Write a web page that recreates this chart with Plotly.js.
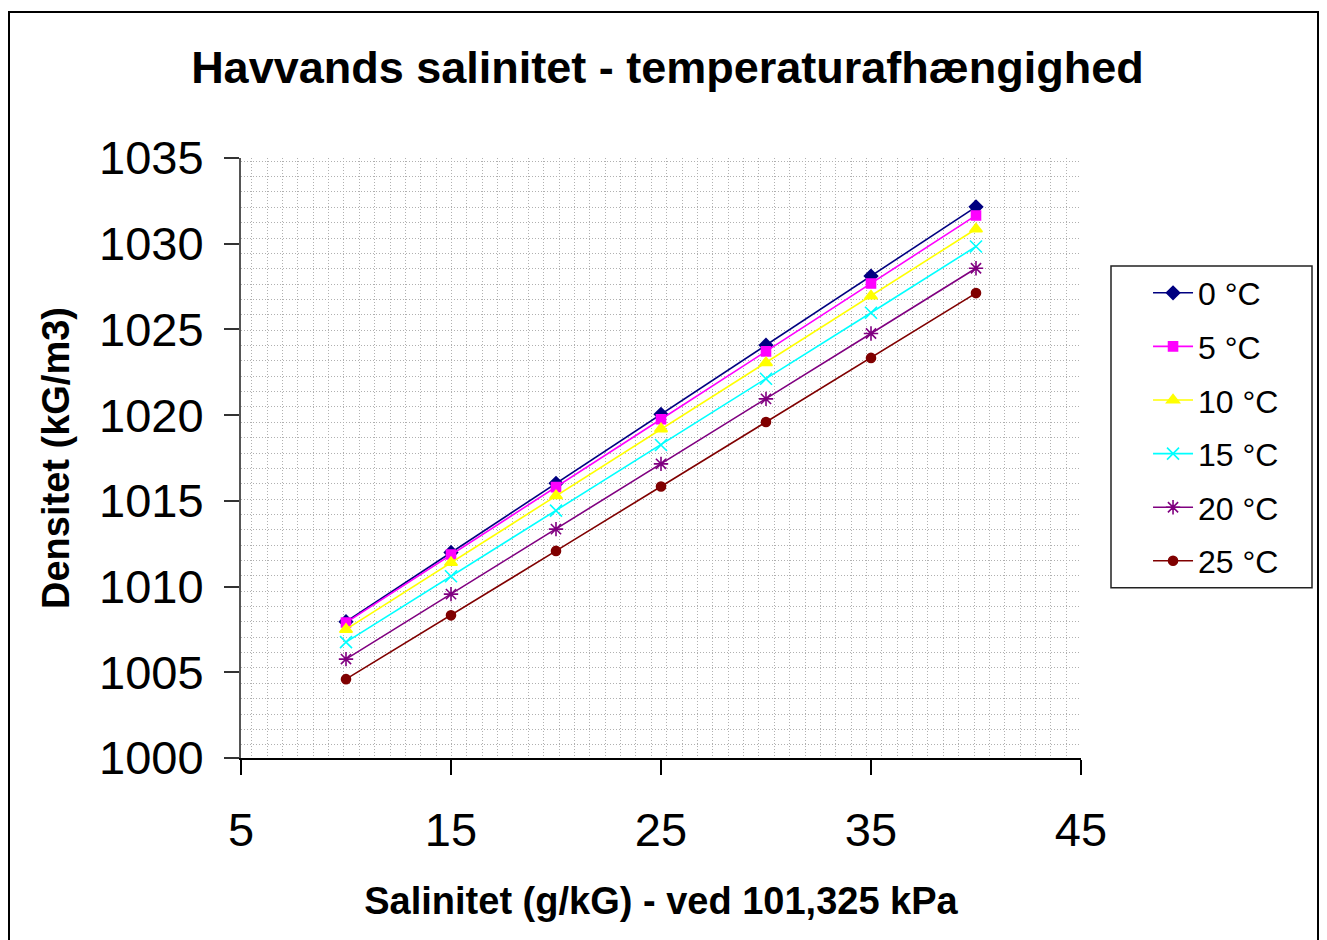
<!DOCTYPE html>
<html>
<head>
<meta charset="utf-8">
<script src="https://cdn.plot.ly/plotly-3.0.1.min.js"></script>
<style>
  html, body { margin: 0; padding: 0; background: #fff; }
  #chart { width: 1327px; height: 940px; }
</style>
</head>
<body>
<div id="chart"></div>
<script>
// Salinity (g/kG)
const salinity = [10, 15, 20, 25, 30, 35, 40];
// Density (kG/m3) per temperature
const seriesNames = ["0 °C", "5 °C", "10 °C", "15 °C", "20 °C", "25 °C"];
const d0  = [1007.95, 1011.99, 1016.02, 1020.05, 1024.08, 1028.11, 1032.15];
const d5  = [1007.90, 1011.87, 1015.80, 1019.76, 1023.72, 1027.68, 1031.65];
const d10 = [1007.50, 1011.40, 1015.30, 1019.20, 1023.06, 1026.95, 1030.86];
const d15 = [1006.76, 1010.60, 1014.43, 1018.26, 1022.12, 1025.97, 1029.84];
const d20 = [1005.77, 1009.56, 1013.35, 1017.16, 1020.95, 1024.76, 1028.57];
const d25 = [1004.60, 1008.32, 1012.08, 1015.84, 1019.60, 1023.34, 1027.12];
const densities = [d0, d5, d10, d15, d20, d25];

const colors  = ["#000080", "#FF00FF", "#FFFF00", "#00FFFF", "#800080", "#800000"];
const symbols = ["diamond", "square", "triangle-up", "x-thin-open", "asterisk-open", "circle"];
const sizes   = [10, 9, 11, 12, 12, 9];

const FONT = "Liberation Sans, Arial, sans-serif";

const traces = densities.map((d, i) => ({
  type: "scatter",
  mode: "lines+markers",
  name: seriesNames[i],
  legendgroup: "g" + i,
  x: salinity,
  y: d,
  line: { color: colors[i], width: 1.6 },
  marker: { color: colors[i], symbol: symbols[i], size: sizes[i],
            line: { color: colors[i], width: 1.6 } },
  hoverinfo: "x+y+name"
}));

const layout = {
  width: 1327, height: 940,
  margin: { l: 241, r: 246, t: 158, b: 182 },
  paper_bgcolor: "#ffffff",
  plot_bgcolor: "#ffffff",
  font: { family: FONT, color: "#000" },
  title: {
    text: "<b>Havvands salinitet - temperaturafhængighed</b>",
    font: { family: FONT, size: 45, color: "#000" },
    x: 0.503, xanchor: "center", y: 0.928, yanchor: "middle"
  },
  xaxis: {
    range: [5, 45], tick0: 5, dtick: 10, tickmode: "linear",
    showgrid: false, zeroline: false,
    showline: true, linecolor: "#000", linewidth: 2,
    ticks: "outside", ticklen: 15, tickwidth: 2, tickcolor: "#000",
    tickfont: { family: FONT, size: 47, color: "#000" },
    ticklabelstandoff: 15,
    title: { text: "<b>Salinitet (g/kG) - ved 101,325 kPa</b>",
             font: { family: FONT, size: 38, color: "#000" }, standoff: 32 },
    minor: { tickmode: "linear", tick0: 5.5095, dtick: 0.7319, showgrid: true,
             gridcolor: "#b0b0b0", gridwidth: 1, griddash: "1px,2px", ticks: "" }
  },
  yaxis: {
    range: [1000, 1035], tick0: 1000, dtick: 5, tickmode: "linear",
    showgrid: false, zeroline: false,
    showline: true, linecolor: "#555", linewidth: 2,
    ticks: "outside", ticklen: 15, tickwidth: 2, tickcolor: "#333",
    tickfont: { family: FONT, size: 47, color: "#000" },
    ticklabelstandoff: 11,
    title: { text: "<b>Densitet (kG/m3)</b>",
             font: { family: FONT, size: 38, color: "#000" }, standoff: 18 },
    minor: { tickmode: "linear", tick0: 1000.7755, dtick: 0.8956, showgrid: true,
             gridcolor: "#b0b0b0", gridwidth: 1, griddash: "1px,2px", ticks: "" }
  },
  legend: {
    x: 1.0798, xanchor: "left", y: 0.8208, yanchor: "top",
    borderwidth: 0, bgcolor: "rgba(0,0,0,0)",
    font: { family: FONT, size: 32, color: "#000" },
    tracegroupgap: 9,
    itemwidth: 40
  },
  shapes: [{
    type: "rect", xref: "paper", yref: "paper",
    x0: (9 - 241) / 840, x1: (1318 - 241) / 840,
    y0: (758.3 - 960) / 600.3, y1: (758.3 - 12) / 600.3,
    line: { color: "#000", width: 2 }, fillcolor: "rgba(0,0,0,0)", layer: "below"
  }, {
    type: "rect", xref: "paper", yref: "paper",
    x0: (1111 - 241) / 840, x1: (1312 - 241) / 840,
    y0: (758.3 - 588) / 600.3, y1: (758.3 - 266) / 600.3,
    line: { color: "#222", width: 1.5 }, fillcolor: "#ffffff", layer: "below"
  }]
};

Plotly.newPlot("chart", traces, layout, { displayModeBar: false, staticPlot: true });
</script>
</body>
</html>
